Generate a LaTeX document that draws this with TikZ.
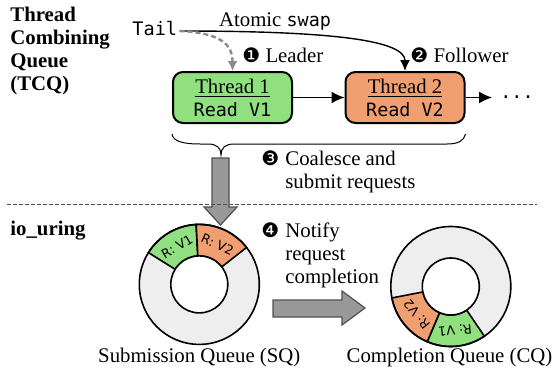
\documentclass[tikz,border=0pt]{standalone}
\usepackage{fontspec}
\setmainfont{Liberation Serif}
\setmonofont{DejaVu Sans Mono}
\newfontfamily\dingfont{DejaVu Sans}
\usetikzlibrary{arrows.meta, positioning, calc}
\definecolor{ThreadGreen}{RGB}{144, 224, 128}
\definecolor{ThreadOrange}{RGB}{240, 160, 112}
\definecolor{RingGray}{RGB}{238, 238, 238}
\definecolor{ArrowGray}{RGB}{153, 153, 153}
\definecolor{EdgeGray}{RGB}{80, 80, 80}
\definecolor{LeaderGray}{RGB}{140, 140, 140}
\newcommand{\stepnum}[1]{{\dingfont\fontsize{10}{10}\selectfont #1}}
\newcommand{\code}[1]{{\ttfamily\fontsize{9.2}{11.5}\selectfont #1}}

\begin{document}
\begin{tikzpicture}[x=0.5pt, y=-0.5pt, every node/.style={font=\fontsize{10.4}{11.5}\selectfont, inner sep=0pt},
    threadbox/.style={draw, line width=1pt, rounded corners=5pt, minimum width=59.5pt, minimum height=25.5pt, align=center},
    segtext/.style={font=\dingfont\fontsize{6.4}{7}\selectfont},
    ringline/.style={line width=0.8pt},
    blockarrow/.style={fill=ArrowGray, draw=EdgeGray, line width=0.6pt},
    flow/.style={-{Latex[length=6.5pt, width=6pt]}, line width=0.7pt}]
        \useasboundingbox (0,0) rectangle (556,375);

        % --- TCQ ---
        \node[anchor=north west, align=left, font=\bfseries\fontsize{10.4}{11.5}\selectfont] (tcq) at (10,7) {Thread\\Combining\\Queue\\(TCQ)};
        \node[anchor=base west, font=\ttfamily\fontsize{9.3}{11}\selectfont] (tail) at (132,35) {Tail};
        \coordinate (tailend) at ($(tail.base east)+(2,-4)$);

        \node[threadbox, fill=ThreadGreen] (t1) at (232.5,97.5) {\underline{Thread 1}\\\code{Read V1}};
        \node[threadbox, fill=ThreadOrange] (t2) at (405,97.5) {\underline{Thread 2}\\\code{Read V2}};
        \node[anchor=west, inner xsep=4pt, font=\ttfamily\fontsize{9.2}{11}\selectfont] (more) at (492,97.5) {...};

        \node[anchor=base] (swaplbl) at (275,26) {Atomic \code{swap}};
        \node[anchor=base west] (leader) at (242,62) {\stepnum{❶} Leader};
        \node[anchor=base west] (follower) at (410,62) {\stepnum{❷} Follower};

        % Arrows
        \draw[-{Latex[length=5.5pt, width=5pt]}, line width=0.7pt] (tailend) .. controls (330,31) and (405,40) .. (t2.north);
        \draw[-{Latex[length=5pt, width=5pt]}, LeaderGray, line width=1.2pt, dash pattern=on 2.5pt off 1.5pt] (tailend) .. controls (222,33) and (232.5,45) .. (t1.north);
        \draw[flow] (t1) -- (t2);
        \draw[flow] (t2) -- (more);

        % Brace
        \draw[line width=0.5pt] ($(t1.south west)+(0,10)$) .. controls (173,141) and (182,144) .. (200,144) -- (208,144)
            .. controls (217,144) and (221,148) .. (221,155) coordinate (bracetip)
            .. controls (221,148) and (225,144) .. (234,144) -- (447,144)
            .. controls (458,144) and (464,141) .. ($(t2.south east)+(0,10)$);

        \filldraw[blockarrow] (212,158) -- (229,158) -- (229,207) -- (237,207) -- (220.5,225) -- (204,207) -- (212,207) -- cycle;
        \node[anchor=base west, align=left] (coalesce) at (285,188) {\llap{\stepnum{❸}\hspace{3pt}}Coalesce and\\submit requests};

        \draw[dash pattern=on 2pt off 1pt, line width=0.4pt, EdgeGray] (7,204) -- (537,204);

        % --- IO_URING ---
        \node[anchor=base west, font=\bfseries\fontsize{10.4}{11.5}\selectfont] (uring) at (10,235) {io\_uring};

        \coordinate (sq) at (199.3,284.4);
        \coordinate (cq) at (450.8,286.5);

        \begin{scope}[shift={(sq)}, y=0.5pt]
            \fill[RingGray] (0,0) circle (60);
            \filldraw[fill=ThreadGreen, ringline] (93:60) arc (93:148:60) -- (148:28.5) arc (148:93:28.5) -- cycle;
            \filldraw[fill=ThreadOrange, ringline] (38:60) arc (38:93:60) -- (93:28.5) arc (93:38:28.5) -- cycle;
            \draw[ringline] (0,0) circle (60);
            \draw[ringline, fill=white] (0,0) circle (28.5);
            \node[segtext, rotate=30.5] (sqv1) at (120.5:44) {R: V1};
            \node[segtext, rotate=-24.5] (sqv2) at (65.5:44) {R: V2};
        \end{scope}

        \begin{scope}[shift={(cq)}, y=0.5pt]
            \fill[RingGray] (0,0) circle (60);
            \filldraw[fill=ThreadOrange, ringline] (191:60) arc (191:247:60) -- (247:28.5) arc (247:191:28.5) -- cycle;
            \filldraw[fill=ThreadGreen, ringline] (247:60) arc (247:304:60) -- (304:28.5) arc (304:247:28.5) -- cycle;
            \draw[ringline] (0,0) circle (60);
            \draw[ringline, fill=white] (0,0) circle (28.5);
            \node[segtext, rotate=185.5] (cqv1) at (275.5:44) {R: V1};
            \node[segtext, rotate=129] (cqv2) at (219:44) {R: V2};
        \end{scope}

        \filldraw[blockarrow] (273,300) -- (342,300) -- (342,291) -- (365,308) -- (342,325) -- (342,317) -- (273,317) -- cycle;
        \node[anchor=base west, align=left] (notify) at (285,283) {\llap{\stepnum{❹}\hspace{3pt}}Notify\\request\\completion};

        \node[anchor=base] (sqlbl) at ($(sq)+(0,78)$) {Submission Queue (SQ)};
        \node[anchor=base] (cqlbl) at ($(cq)+(-1.3,75.9)$) {Completion Queue (CQ)};
    \end{tikzpicture}
\end{document}
